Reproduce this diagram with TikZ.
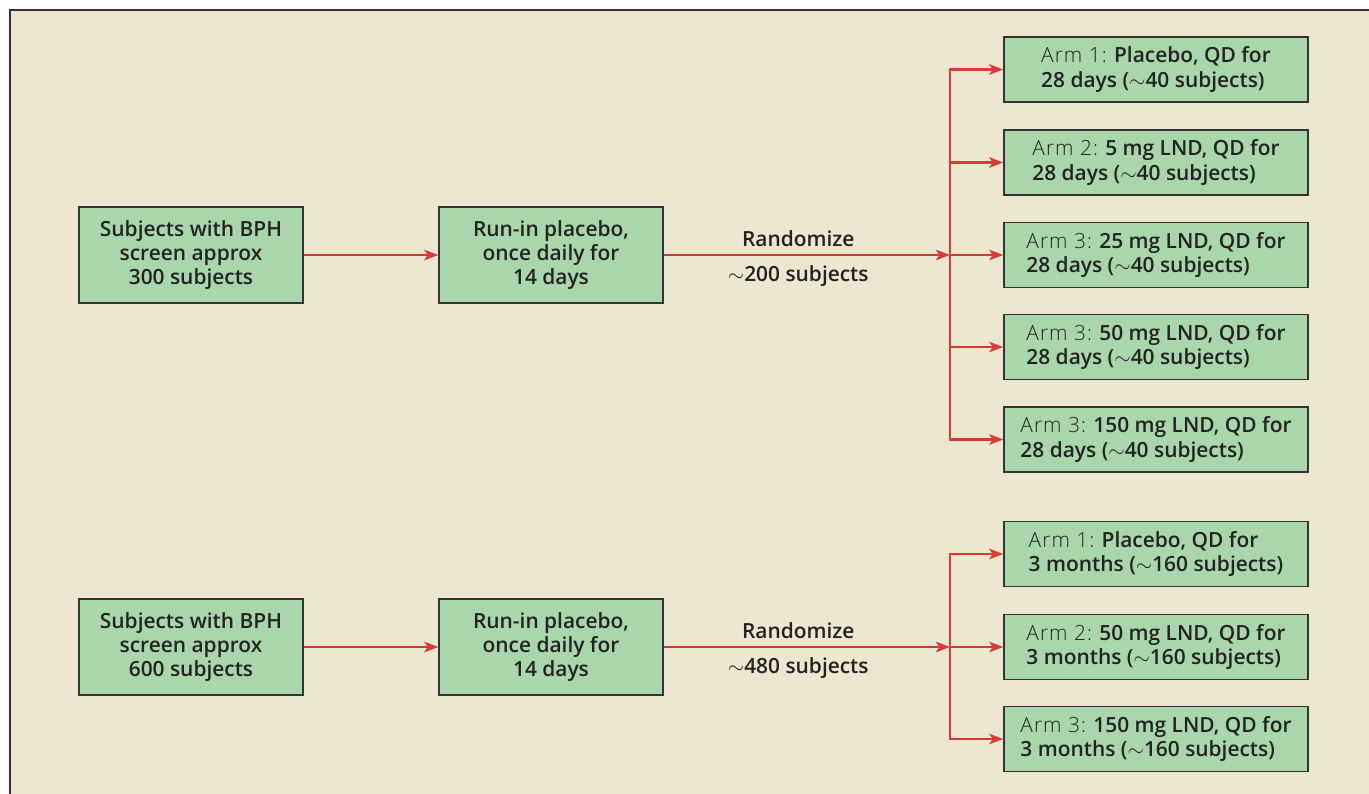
\documentclass[tikz,border=0pt]{standalone}
\usepackage{fontspec}
\setmainfont{Open Sans}[BoldFont={Open Sans Semibold}]
\newfontfamily\lightfont{Open Sans Light}[LetterSpace=5]
\usetikzlibrary{arrows.meta,positioning}
\definecolor{paper}{HTML}{EDE6D0}
\definecolor{boxgreen}{HTML}{AAD6AB}
\definecolor{boxline}{HTML}{333333}
\definecolor{linkred}{HTML}{D93A36}
\definecolor{txt}{HTML}{222222}
\newcommand{\armlbl}[1]{{\lightfont\mdseries #1}}
\begin{document}
\begin{tikzpicture}[
    box/.style={draw=boxline, fill=boxgreen, line width=0.8pt, minimum width=4.48cm,
      minimum height=1.92cm, align=center, text=txt,
      font=\fontsize{11.9}{13.9}\selectfont\bfseries},
    arm/.style={box, minimum width=6.08cm, minimum height=1.3cm, align=left},
    link/.style={draw=linkred, line width=1.2pt, -{Stealth[length=8pt,width=6pt,inset=2pt]}},
    lbl/.style={text=txt, font=\fontsize{11.9}{13.9}\selectfont\bfseries}
  ]
  \useasboundingbox (0,0) rectangle (27.38,-15.88);
  \fill[white] (0,0) rectangle (27.38,-15.88);
  \draw[boxline, fill=paper, line width=1.7pt] (0.2,-0.2) rectangle (27.8,-16.3);

  % 28-day study
  \node[box] (scr1) at (3.82,-5.10) {Subjects with BPH\\screen approx\\300 subjects};
  \node[box] (run1) at (11.02,-5.10) {Run-in placebo,\\once daily for\\14 days};
  \coordinate (split1) at (19.0,-5.10);
  \node[arm] (a11) at (23.12,-1.39) {\armlbl{Arm 1:} Placebo, QD for\\28 days ($\sim$40 subjects)};
  \node[arm] (a12) at (23.12,-3.25) {\armlbl{Arm 2:} 5 mg LND, QD for\\28 days ($\sim$40 subjects)};
  \node[arm] (a13) at (23.12,-5.10) {\armlbl{Arm 3:} 25 mg LND, QD for\\28 days ($\sim$40 subjects)};
  \node[arm] (a14) at (23.12,-6.94) {\armlbl{Arm 3:} 50 mg LND, QD for\\28 days ($\sim$40 subjects)};
  \node[arm] (a15) at (23.12,-8.79) {\armlbl{Arm 3:} 150 mg LND, QD for\\28 days ($\sim$40 subjects)};

  \draw[link] (scr1) -- (run1);
  \draw[link] (run1) -- node[lbl, pos=0.47, above=1pt] {Randomize}
    node[lbl, pos=0.47, below=2pt] {$\sim$200 subjects} (split1);
  \foreach \a in {a11,a12,a13,a14,a15}
    \draw[link] (split1) |- (\a.west);

  % 3-month study
  \node[box] (scr2) at (3.82,-12.94) {Subjects with BPH\\screen approx\\600 subjects};
  \node[box] (run2) at (11.02,-12.94) {Run-in placebo,\\once daily for\\14 days};
  \coordinate (split2) at (19.0,-12.94);
  \node[arm] (a21) at (23.12,-11.08) {\armlbl{Arm 1:} Placebo, QD for\\3 months ($\sim$160 subjects)};
  \node[arm] (a22) at (23.12,-12.94) {\armlbl{Arm 2:} 50 mg LND, QD for\\3 months ($\sim$160 subjects)};
  \node[arm] (a23) at (23.12,-14.78) {\armlbl{Arm 3:} 150 mg LND, QD for\\3 months ($\sim$160 subjects)};

  \draw[link] (scr2) -- (run2);
  \draw[link] (run2) -- node[lbl, pos=0.47, above=1pt] {Randomize}
    node[lbl, pos=0.47, below=2pt] {$\sim$480 subjects} (split2);
  \foreach \a in {a21,a22,a23}
    \draw[link] (split2) |- (\a.west);
\end{tikzpicture}
\end{document}
